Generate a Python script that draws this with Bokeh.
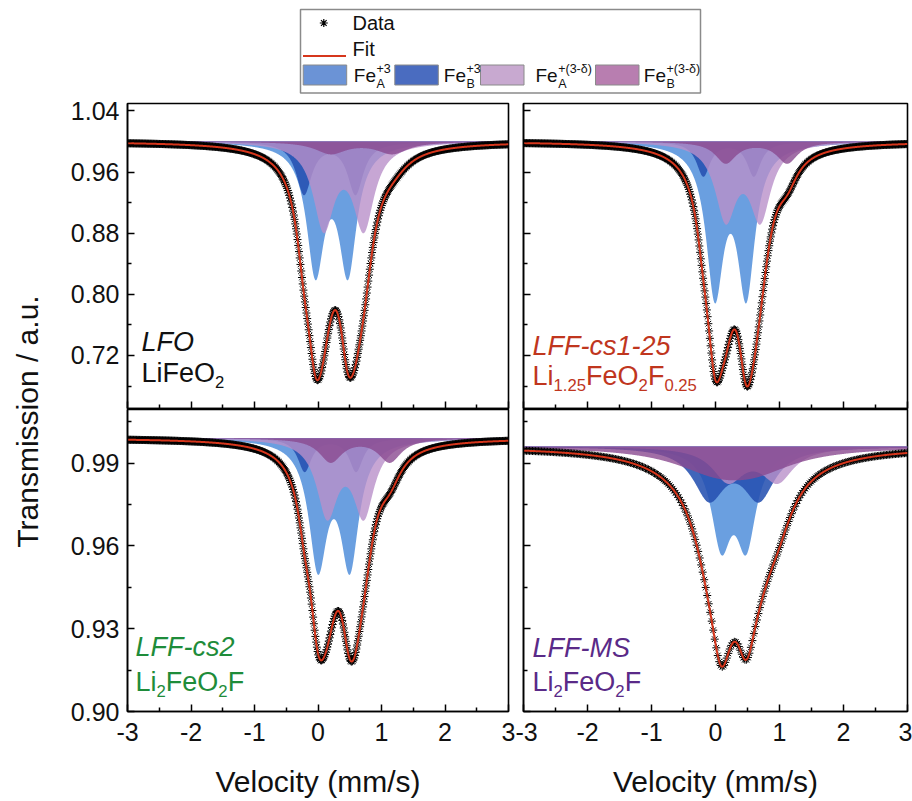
import numpy as np
from bokeh.plotting import figure
from bokeh.layouts import row, column
from bokeh.models import Range1d, FixedTicker, Label, LinearAxis
from bokeh.embed import file_html
from bokeh.resources import INLINE

# ---------------- data ----------------
# component order: Fe_A^+3, Fe_B^+3, Fe_A^+(3-δ), Fe_B^+(3-δ)
component_colors = ["#5592dc", "#2651b0", "#b990c9", "#8a4a90"]
component_alpha = [0.88, 0.88, 0.8, 0.8]
legend_colors = ["#6b93d6", "#4a6cc0", "#c8a9d0", "#b87eb0"]

# doublet line positions (mm/s), depths, half widths, per sample
lfo_centers = [(-0.04, 0.47), (-0.22, 0.59), (0.09, 0.72), (0.20, 1.17)]
lfo_depths = [0.165, 0.068, 0.110, 0.0155]
lfo_hwhm = [0.17, 0.15, 0.20, 0.30]

cs125_centers = [(-0.01, 0.48), (-0.19, 0.60), (0.16, 0.70), (0.16, 1.12)]
cs125_depths = [0.192, 0.045, 0.097, 0.028]
cs125_hwhm = [0.166, 0.13, 0.20, 0.20]

cs2_centers = [(0.00, 0.50), (-0.21, 0.60), (0.145, 0.72), (0.20, 1.13)]
cs2_depths = [0.0446, 0.012, 0.027, 0.0085]
cs2_hwhm = [0.175, 0.13, 0.20, 0.22]

ms_centers = [(0.09, 0.48), (-0.10, 0.68), (0.20, 0.97), (0.00, 0.60)]
ms_depths = [0.033, 0.018, 0.012, 0.007]
ms_hwhm = [0.19, 0.30, 0.30, 0.80]

baselines = [1.0, 1.0, 0.999, 0.996]
n_channels = [512, 512, 512, 256]

sample_names = ["LFO", "LFF-cs1-25", "LFF-cs2", "LFF-MS"]
sample_formulas = [
    [("LiFeO", ""), ("2", "sub")],
    [("Li", ""), ("1.25", "sub"), ("FeO", ""), ("2", "sub"), ("F", ""), ("0.25", "sub")],
    [("Li", ""), ("2", "sub"), ("FeO", ""), ("2", "sub"), ("F", "")],
    [("Li", ""), ("2", "sub"), ("FeO", ""), ("2", "sub"), ("F", "")],
]
sample_colors = ["#111111", "#c0361e", "#1e8c3a", "#5a2a88"]

top_yticks = [0.72, 0.80, 0.88, 0.96, 1.04]
top_yminor = [0.68, 0.76, 0.84, 0.92, 1.00]
bot_yticks = [0.90, 0.93, 0.96, 0.99]
bot_yminor = [0.915, 0.945, 0.975, 1.005]
xticks = [-3, -2, -1, 0, 1, 2, 3]
xminor = [-2.5, -1.5, -0.5, 0.5, 1.5, 2.5]
xtick_labels = ["-3", "-2", "-1", "0", "1", "2", "3"]

FONT = "Liberation Sans"
W = {'L': .556, 'i': .222, 'F': .611, 'e': .556, 'O': .778, '.': .278, '-': .333,
     'c': .5, 's': .5, 'M': .833, 'S': .667, 'D': .722, 'a': .556, 't': .278}


def tw(s, size):
    return sum(W.get(ch, 0.556) for ch in s) * size


def lorentz_doublet(v, centers, depth, hwhm):
    out = np.zeros_like(v)
    for c in centers:
        out += depth / (1.0 + ((v - c) / hwhm) ** 2)
    return out


def add_rich(p, x0, y0, segments, size, color, italic=False, units="screen"):
    x = x0
    for txt, kind in segments:
        fs = size if kind == "" else size * 0.62
        dy = 0 if kind == "" else (-size * 0.36 if kind == "sub" else size * 0.36)
        p.add_layout(Label(x=x, y=y0 + dy, x_units=units, y_units=units, text=txt,
                           text_font_size=f"{fs:.1f}px", text_color=color, text_font=FONT,
                           text_baseline="middle", text_align="left",
                           text_font_style="italic" if italic else "normal"))
        x += tw(txt, fs)


def style_axis(ax):
    ax.axis_line_color = "black"
    ax.axis_line_width = 1.5
    ax.major_tick_in = 7
    ax.major_tick_out = 0
    ax.minor_tick_in = 4
    ax.minor_tick_out = 0
    ax.major_tick_line_color = "black"
    ax.minor_tick_line_color = "black"
    ax.major_tick_line_width = 1.5
    ax.minor_tick_line_width = 1.5
    ax.major_label_text_font = FONT
    ax.major_label_text_color = "#111111"


def tick_only(p, ax, side, major, minor):
    # axis with ticks and no tick labels: long ticks at major positions, short ones between
    ax.ticker = FixedTicker(ticks=[], minor_ticks=major)
    ax.minor_tick_in = 7
    ax2 = LinearAxis(ticker=FixedTicker(ticks=[], minor_ticks=minor))
    style_axis(ax2)
    ax2.axis_line_color = None
    p.add_layout(ax2, side)


def make_panel(i, width, height, yr, yticks, yminor, borders, show_ylabels, show_xlabels,
               label_pos):
    bl, br, bt, bb = borders
    p = figure(width=width, height=height, x_range=Range1d(-3, 3), y_range=Range1d(*yr),
               output_backend="svg", toolbar_location=None, title=None,
               min_border_left=bl, min_border_right=br, min_border_top=bt, min_border_bottom=bb)
    p.grid.visible = False
    p.background_fill_color = "white"
    p.border_fill_color = "white"
    p.outline_line_color = "black"
    p.outline_line_width = 1.6

    params = [(lfo_centers, lfo_depths, lfo_hwhm), (cs125_centers, cs125_depths, cs125_hwhm),
              (cs2_centers, cs2_depths, cs2_hwhm), (ms_centers, ms_depths, ms_hwhm)][i]
    base = baselines[i]
    v = np.linspace(-3, 3, 1201)
    total = np.zeros_like(v)
    for k in range(4):
        comp = lorentz_doublet(v, params[0][k], params[1][k], params[2][k])
        total += comp
        p.varea(x=v, y1=np.full_like(v, base), y2=base - comp,
                fill_color=component_colors[k], fill_alpha=component_alpha[k])
    vd = np.linspace(-3, 3, n_channels[i])
    dtot = np.zeros_like(vd)
    for k in range(4):
        dtot += lorentz_doublet(vd, params[0][k], params[1][k], params[2][k])
    p.scatter(vd, base - dtot, marker="asterisk", size=8, line_color="black", line_width=1)
    p.line(v, base - total, line_color="#d6361c", line_width=2)

    xa = p.xaxis[0]
    ya = p.yaxis[0]
    style_axis(xa)
    style_axis(ya)
    if show_ylabels:
        ya.ticker = FixedTicker(ticks=yticks, minor_ticks=yminor)
        ya.major_label_text_font_size = "25px"
        ya.major_label_standoff = 8
        ya.major_label_overrides = {t: f"{t:.2f}" for t in yticks}
    else:
        tick_only(p, ya, "left", yticks, yminor)
    if show_xlabels:
        xa.ticker = FixedTicker(ticks=xticks, minor_ticks=xminor)
        xa.major_label_overrides = dict(zip(xticks, xtick_labels))
        xa.major_label_text_font_size = "25px"
        xa.major_label_standoff = 11
        xa.axis_label = "Velocity (mm/s)"
        xa.axis_label_text_font_size = "30px"
        xa.axis_label_text_font_style = "normal"
        xa.axis_label_text_font = FONT
        xa.axis_label_text_color = "#111111"
        xa.axis_label_standoff = 21
    else:
        tick_only(p, xa, "below", xticks, xminor)

    lx, ly1, ly2 = label_pos
    p.add_layout(Label(x=lx, y=ly1, x_units="screen", y_units="screen", text=sample_names[i],
                       text_font_size="27px", text_color=sample_colors[i], text_font=FONT,
                       text_font_style="italic", text_baseline="middle"))
    add_rich(p, lx, ly2, sample_formulas[i], 27, sample_colors[i])
    return p


TOP = (0.6506, 1.0498)
BOT = (0.9000, 1.0094)

tl = make_panel(0, 459, 315, TOP, top_yticks, top_yminor, (71, 7, 9, 1), True, False, (14, 67, 36))
tr = make_panel(1, 397, 315, TOP, top_yticks, top_yminor, (8, 5, 9, 1), False, False, (9, 63, 33))
bl = make_panel(2, 459, 391, BOT, bot_yticks, bot_yminor, (71, 7, 0, 88), True, True, (8, 65, 30))
br = make_panel(3, 397, 391, BOT, bot_yticks, bot_yminor, (8, 5, 0, 88), False, True, (9, 64, 30))

# ---------------- legend ----------------
LW, LH = 856, 94
leg = figure(width=LW, height=LH, x_range=Range1d(0, LW), y_range=Range1d(0, LH),
             output_backend="svg", toolbar_location=None, title=None,
             x_axis_location=None, y_axis_location=None,
             min_border_left=0, min_border_right=0, min_border_top=0, min_border_bottom=0)
leg.grid.visible = False
leg.outline_line_color = None
leg.quad(left=[244], right=[644], bottom=[1.5], top=[85], fill_color=None,
         line_color="#8a8a8a", line_width=1.5)
leg.scatter([267.3], [71.5], marker="asterisk", size=8, line_color="black", line_width=1.2)
leg.add_layout(Label(x=296, y=71.5, text="Data", text_font_size="20px", text_font=FONT,
                     text_baseline="middle", text_color="#111111"))
leg.line([246.5, 289.5], [38.5, 38.5], line_color="#d6361c", line_width=2)
leg.add_layout(Label(x=296, y=46, text="Fit", text_font_size="20px", text_font=FONT,
                     text_baseline="middle", text_color="#111111"))
sw_left = [246.7, 338.3, 424.0, 539.0]
txt_left = [297.3, 387.3, 479.0, 587.3]
subs = ["A", "B", "A", "B"]
sups = ["+3", "+3", "+(3-δ)", "+(3-δ)"]
for k in range(4):
    leg.quad(left=[sw_left[k]], right=[sw_left[k] + 43.5], bottom=[9.5], top=[29.5],
             fill_color=legend_colors[k], line_color="#8a8a8a", line_width=1)
    leg.add_layout(Label(x=txt_left[k], y=19, text="Fe", text_font_size="19px",
                         text_font=FONT, text_baseline="middle", text_color="#111111"))
    xs = txt_left[k] + tw("Fe", 19) + 0.5
    leg.add_layout(Label(x=xs, y=26, text=sups[k], text_font_size="12.5px",
                         text_font=FONT, text_baseline="middle", text_color="#111111"))
    leg.add_layout(Label(x=xs, y=10.5, text=subs[k], text_font_size="12.5px",
                         text_font=FONT, text_baseline="middle", text_color="#111111"))

# ---------------- y label ----------------
YH = LH + 315 + 391
yl = figure(width=56, height=YH, x_range=Range1d(0, 56), y_range=Range1d(0, YH),
            output_backend="svg", toolbar_location=None, title=None,
            x_axis_location=None, y_axis_location=None,
            min_border_left=0, min_border_right=0, min_border_top=0, min_border_bottom=0)
yl.grid.visible = False
yl.outline_line_color = None
yl.add_layout(Label(x=27, y=YH - 421, text="Transmission / a.u.", angle=np.pi / 2,
                    text_align="center", text_baseline="middle", text_font_size="30px",
                    text_font=FONT, text_color="#111111"))

layout = row(yl, column(leg, row(tl, tr), row(bl, br)))
open("out.html", "w").write(file_html(layout, INLINE, "Mossbauer"))
